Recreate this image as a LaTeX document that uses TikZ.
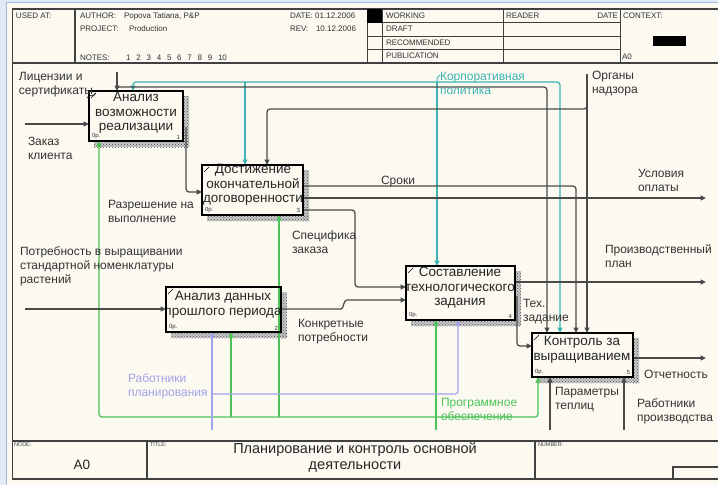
\documentclass[tikz,border=0pt]{standalone}
\usepackage{fontspec}
\setmainfont{Liberation Sans}
\usetikzlibrary{arrows.meta,patterns}
\definecolor{cream}{HTML}{FBF9F0}
\definecolor{dk}{HTML}{4A4A4A}
\definecolor{tl}{HTML}{3DB3B3}
\definecolor{gr}{HTML}{4CC35A}
\definecolor{pu}{HTML}{A3A3EA}
\definecolor{frameblue}{HTML}{9DB9E0}
\begin{document}
\begin{tikzpicture}[x=1pt,y=-1pt,
  every node/.style={inner sep=0pt,outer sep=0pt},
  dl/.style={draw=dk,line width=1.25pt,rounded corners=3pt},
  tline/.style={draw=tl,line width=1.25pt,rounded corners=3pt},
  gline/.style={draw=gr,line width=1.25pt,rounded corners=3pt},
  pline/.style={draw=pu,line width=1.25pt,rounded corners=3pt},
  tip/.style={-{Triangle[length=5.5pt,width=5pt]}},
  fr/.style={draw=black!75,line width=1.2pt},
  lbl/.style={font=\fontsize{12}{14}\selectfont,text=black!80,align=left,anchor=north west},
  btxt/.style={font=\fontsize{13.5}{14.5}\selectfont,align=center,text=black!85},
  hd/.style={font=\fontsize{8}{9}\selectfont,text=black!80,anchor=west},
  ft/.style={font=\fontsize{5.5}{6}\selectfont,text=black!75,anchor=north west},
  tinyt/.style={font=\fontsize{6}{6}\selectfont,text=black!80},
  fbox/.style={fill=cream,anchor=north west},
  shdbase/.style={fill=black!22},
  shd/.style={pattern=crosshatch dots,pattern color=black!65},
]
\useasboundingbox (0,0) rectangle (718,485);
\fill[cream] (0,0) rectangle (718,485);
\fill[frameblue!30] (0,0) rectangle (6,485);
\fill[frameblue!30] (6,0) rectangle (718,2);
\draw[frameblue,line width=1.2pt] (6.5,485) -- (6.5,2.6) -- (718,2.6);

% ---------- frame and header ----------
\draw[black!75,line width=1.6pt] (12.5,480) -- (12.5,9) -- (718,9);
\draw[black!75,line width=1.6pt] (12,63) -- (718,63);
\draw[fr] (75,9) -- (75,63);
\foreach \x in {367,382,503,620} \draw[fr,line width=1pt] (\x,9) -- (\x,63);
\foreach \y in {22.5,36,49.5} \draw[fr,line width=1pt] (367,\y) -- (620,\y);
\fill[black] (367,9) rectangle (382,22.5);
\fill[black] (653,36) rectangle (686,46);

\node[hd] (usedat) at (16,16) {USED AT:};
\node[hd] (author) at (80,16) {AUTHOR:};
\node[hd] (authorv) at (124,16) {Popova Tatiana, P\&P};
\node[hd] (project) at (80,29) {PROJECT:};
\node[hd] (projectv) at (129,29) {Production};
\node[hd] (notes) at (80,58) {NOTES:};
\foreach \n in {1,...,10} \node[hd] (note\n) at (116+10.2*\n,58) {\n};
\node[hd] (date) at (290,16) {DATE: 01.12.2006};
\node[hd] (rev) at (290,29) {REV:};
\node[hd] (revv) at (316,29) {10.12.2006};
\node[hd] (working) at (386,16) {WORKING};
\node[hd] (draft) at (386,29) {DRAFT};
\node[hd] (recom) at (386,43) {RECOMMENDED};
\node[hd] (publ) at (386,56) {PUBLICATION};
\node[hd] (reader) at (506,16) {READER};
\node[hd,anchor=east] (rdate) at (618,16) {DATE};
\node[hd] (context) at (623,16) {CONTEXT:};
\node[hd] (ctxa0) at (622,57) {A0};

% ---------- footer ----------
\draw[black!75,line width=1.6pt] (12,441) -- (718,441);
\draw[black!75,line width=1.6pt] (12,479) -- (718,479);
\draw[fr] (147,441) -- (147,479);
\draw[fr] (535,441) -- (535,479);
\draw[fr] (673,479) -- (673,467) -- (718,467);
\node[ft] (nodel) at (14,443) {NODE:};
\node[ft] (titlel) at (150,443) {TITLE:};
\node[ft] (numl) at (538,443) {NUMBER:};
\node[font=\fontsize{13.5}{14}\selectfont,text=black!85] (a0) at (82,465) {A0};
\node[font=\fontsize{14.5}{16}\selectfont,align=center,text=black!85] (title) at (355,458) {Планирование и контроль основной\\деятельности};

% ---------- boxes (fill only) ----------
\node[fbox,minimum width=94pt,minimum height=50pt] (b1) at (89,91) {};
\node[fbox,minimum width=115pt,minimum height=45pt] (b2) at (166,287) {};
\node[fbox,minimum width=101pt,minimum height=50pt] (b3) at (202,165) {};
\node[fbox,minimum width=109pt,minimum height=54pt] (b4) at (406,266) {};
\node[fbox,minimum width=101pt,minimum height=44pt] (b5) at (532,333) {};

% ---------- shadows ----------
\foreach \b in {b1,b2,b3,b4,b5} {
  \fill[shdbase] ([shift={(0,5)}]\b.north east) rectangle ([shift={(6,6)}]\b.south east);
  \fill[shdbase] ([shift={(5,0)}]\b.south west) rectangle ([shift={(6,6)}]\b.south east);
  \fill[shd] ([shift={(0,5)}]\b.north east) rectangle ([shift={(6,6)}]\b.south east);
  \fill[shd] ([shift={(5,0)}]\b.south west) rectangle ([shift={(6,6)}]\b.south east);
}

% ---------- connectors ----------
% green
\draw[gline,tip] (436,430) -- (436,0 |- b4.south);
\draw[gline,tip] (436,417) -| (538,0 |- b5.south);
\draw[gline,tip] (436,417) -| (99,0 |- b1.south);
\draw[gline,tip] (231,417) -- (231,0 |- b2.south);
\draw[gline,tip] (279,417) -- (279,0 |- b3.south);
% purple
\draw[pline,tip] (212,430) -- (212,0 |- b2.south);
\draw[pline,tip] (212,394) -| (458,0 |- b4.south);
% teal
\draw[tline,tip] (437,82) -- (133,82) -- (133,0 |- b1.north);
\draw[tline,tip] (437,82) -- (560,82) -- (560,0 |- b5.north);
\draw[tline,tip] (245,82) -- (245,0 |- b3.north);
\draw[tline,tip] (437,82) -- (437,0 |- b4.north);
\draw[tl,line width=1pt] (437,82) -- (437,78) -- (440,75);
% dark
\coordinate (zak) at (25,124);
\draw[dl,tip] (zak) -- (zak -| b1.west);
\coordinate (lic) at (117,72);
\draw[dl,tip] (lic) -- (lic |- b1.north);
\draw[dl,tip] (117,87) -- (547,87) -- (547,0 |- b5.north);
\draw[dk,line width=0.8pt] (87,98) .. controls (90,93) and (93,98) .. (96,93);
\coordinate (org) at (587,74);
\draw[dl,tip] (org) -- (org |- b5.north);
\draw[dl,tip] (587,100) |- (267,109) -- (267,0 |- b3.north);
\draw[dl,tip] (186,127) -- (186,192) -- (b3.west |- 0,192);
\draw[dl,tip] (b3.east |- 0,186) -- (576,186) -- (576,0 |- b5.north);
\draw[dl,tip] (b3.east |- 0,198) -- (706,198);
\draw[dl,tip] (b3.east |- 0,210) -- (355,210) -- (355,287) -- (b4.west |- 0,287);
\coordinate (potr) at (25,309);
\draw[dl,tip] (potr) -- (potr -| b2.west);
\draw[dl,tip] (b2.east |- 0,309) -- (338,309) .. controls (344,309) and (343,300) .. (350,300) -- (b4.west |- 0,300);
\draw[dl,tip] (b4.east |- 0,282) -- (706,282);
\draw[dl,tip] (517,296) -- (517,346) -- (b5.west |- 0,346);
\draw[dl,tip] (b5.east |- 0,358) -- (706,358);
\draw[dl,tip] (550,430) -- (550,0 |- b5.south);
\draw[dl,tip] (624,430) -- (624,0 |- b5.south);

% ---------- box texts and borders ----------
\node[btxt] (t1) at (136,113) {Анализ\\возможности\\реализации};
\node[btxt] (t2) at (223,305) {Анализ данных\\прошлого периода};
\node[btxt] (t3) at (253,185) {Достижение\\окончательной\\договоренности};
\node[btxt] (t4) at (460,288) {Составление\\технологического\\задания};
\node[btxt] (t5) at (582,350) {Контроль за\\выращиванием};
\foreach \b/\n in {b1/1,b2/2,b3/3,b4/4,b5/5} {
  \draw[black,line width=1.8pt] (\b.south west) rectangle (\b.north east);
  \draw[black,line width=0.6pt] ([shift={(2,7)}]\b.north west) -- ([shift={(7,2)}]\b.north west);
  \node[tinyt,anchor=south west] at ([shift={(3,-2)}]\b.south west) {0р.};
  \node[tinyt,anchor=south east] at ([shift={(-3,-2)}]\b.south east) {\n};
}

% ---------- labels ----------
\node[lbl] (llic) at (19,72) {Лицензии и\\сертификаты};
\node[lbl] (lzak) at (28,137) {Заказ\\клиента};
\node[lbl,text=tl] (lkorp) at (440,72) {Корпоративная\\политика};
\node[lbl] (lorg) at (592,71) {Органы\\надзора};
\node[lbl] (lrazr) at (108,200) {Разрешение на\\выполнение};
\node[lbl] (lsrok) at (381,176) {Сроки};
\node[lbl] (lusl) at (638,169) {Условия\\оплаты};
\node[lbl] (lspec) at (292,231) {Специфика\\заказа};
\node[lbl] (lpotr) at (20,247) {Потребность в выращивании\\стандартной номенклатуры\\растений};
\node[lbl] (lkonk) at (298,319) {Конкретные\\потребности};
\node[lbl] (lproizv) at (605,245) {Производственный\\план};
\node[lbl] (ltex) at (523,299) {Тех.\\задание};
\node[lbl] (lotch) at (644,370) {Отчетность};
\node[lbl,text=pu] (lrabpl) at (128,374) {Работники\\планирования};
\node[lbl,text=gr] (lprog) at (441,398) {Программное\\обеспечение};
\node[lbl] (lparam) at (555,387) {Параметры\\теплиц};
\node[lbl] (lrabpr) at (637,399) {Работники\\производства};
\end{tikzpicture}
\end{document}
